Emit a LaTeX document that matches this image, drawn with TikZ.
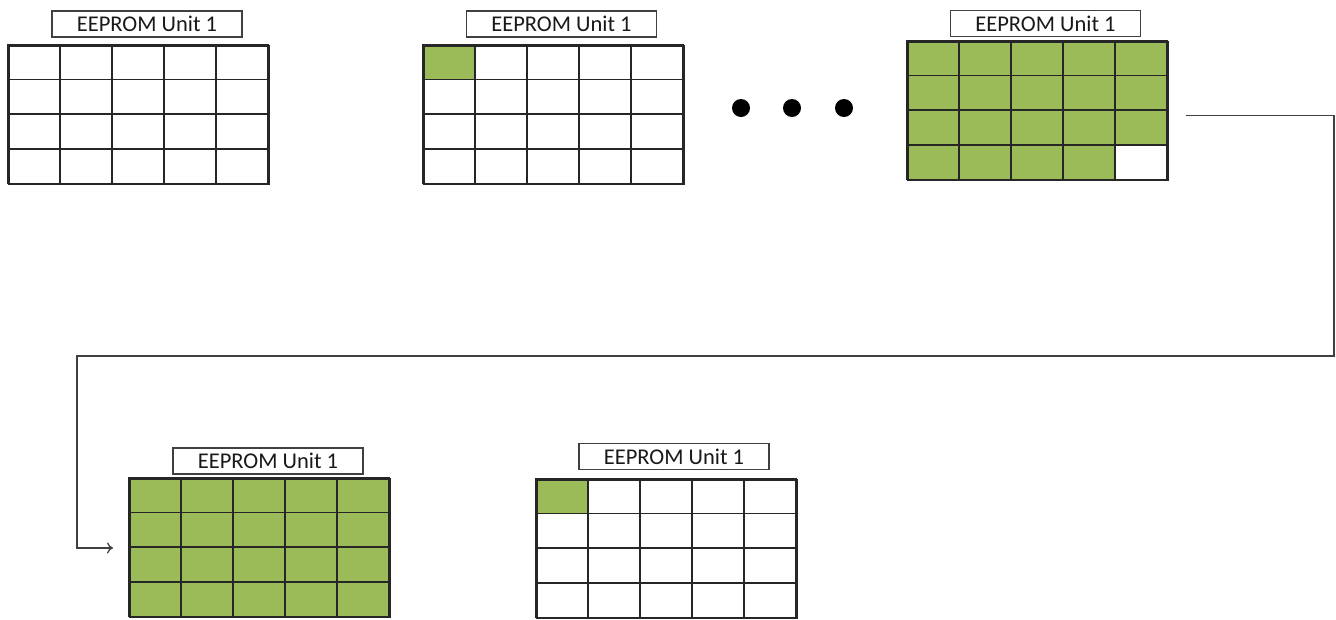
\documentclass[tikz,border=0pt]{standalone}
\usepackage{fontspec}
\setmainfont{Carlito}
\usetikzlibrary{arrows.meta,calc}
\definecolor{cellgreen}{HTML}{9BBB59}
\definecolor{linegray}{HTML}{404040}
\tikzset{
  cell/.style={draw=black!85, line width=1.5pt},
  gridframe/.style={draw=black!85, line width=1.5pt, minimum width=260pt, minimum height=138.4pt, inner sep=0pt, anchor=north west},
  unitlabel/.style={draw=linegray, line width=1.2pt, fill=white, minimum width=190pt, minimum height=26pt, inner sep=0pt, font=\fontsize{22.5}{25}\selectfont, text=black!90},
  flow/.style={draw=linegray, line width=1.3pt},
  dotmark/.style={circle, fill=black, minimum size=18pt, inner sep=0pt}
}
\newcommand\memgrid[4]{%
  \foreach \r in {0,...,3}{\foreach \c in {0,...,4}{%
    \pgfmathtruncatemacro\k{\r*5+\c}%
    \ifnum\k<#4\relax\def\cellfill{cellgreen}\else\def\cellfill{white}\fi
    \draw[cell, fill=\cellfill] (#2+\c*52, #3+\r*34.6) rectangle ++(52,34.6);
  }}
  \node[gridframe] (#1) at (#2,#3) {};
}
\begin{document}
\begin{tikzpicture}[x=1pt,y=-1pt]
\useasboundingbox (0,0) rectangle (1336,619);
\memgrid{g1}{8}{45}{0}
\memgrid{g2}{423}{45}{1}
\memgrid{g3}{907}{41}{19}
\memgrid{g4}{129}{478}{20}
\memgrid{g5}{536}{479}{1}
\node[unitlabel] (l1) at (147,24) {EEPROM Unit 1};
\node[unitlabel] (l2) at (561.5,24) {EEPROM Unit 1};
\node[unitlabel] (l3) at (1045.5,23.5) {EEPROM Unit 1};
\node[unitlabel] (l4) at (268,461) {EEPROM Unit 1};
\node[unitlabel] (l5) at (674,456.5) {EEPROM Unit 1};
\node[dotmark] (d1) at (741,108) {};
\node[dotmark] (d2) at (792,108) {};
\node[dotmark] (d3) at (844,108) {};
\coordinate (cs) at ($(g3.east)+(17,4.5)$);
\coordinate (k1) at (1334,356);
\coordinate (k2) at (77,356);
\coordinate (ce) at ($(g4.west)+(-16,0)$);
\draw[flow, -{To[length=6pt,width=11pt]}] (cs) -| (k1) -- (k2) |- (ce);
\end{tikzpicture}
\end{document}
